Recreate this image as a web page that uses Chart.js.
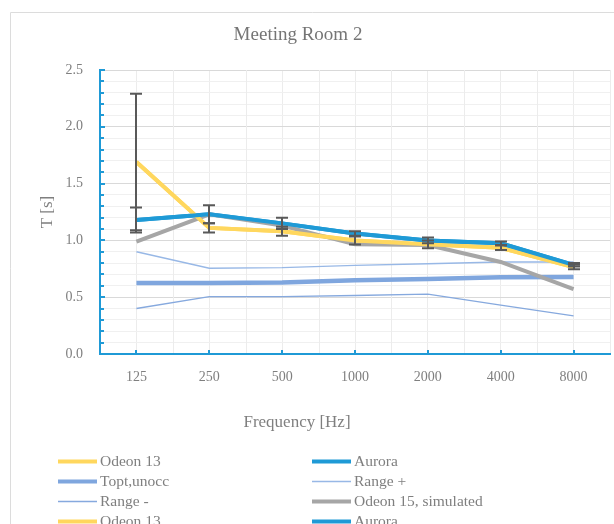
<!DOCTYPE html>
<html>
<head>
<meta charset="utf-8">
<script src="https://cdn.jsdelivr.net/npm/chart.js@4.4.1/dist/chart.umd.min.js"></script>
<style>
  html,body{margin:0;padding:0;background:#fff;}
  canvas{display:block;}
</style>
</head>
<body>
<canvas id="rtChart" width="614" height="524"></canvas>
<script>
// ------------------------------------------------------------
//  Meeting Room 2 - reverberation time per octave band
// ------------------------------------------------------------
const freqs=['125','250','500','1000','2000','4000','8000'];
const odeon13=[1.69,1.11,1.08,1.00,0.965,0.935,0.765];
const aurora=[1.18,1.23,1.15,1.06,1.00,0.975,0.785];
const toptUnocc=[0.625,0.625,0.63,0.65,0.66,0.675,0.678];
const rangePlus=[0.90,0.755,0.76,0.78,0.795,0.81,0.81];
const rangeMinus=[0.40,0.505,0.505,0.515,0.527,0.43,0.336];
const odeon15=[0.99,1.23,1.13,0.965,0.96,0.81,0.57];
const odeon13Err=[0.60,0.04,0.04,0.035,0.035,0.02,0.02];
const auroraErr=[0.11,0.08,0.05,0.02,0.025,0.015,0.015];
const yMajor=[0,0.5,1,1.5,2,2.5];
const yMinorStep=0.1;
const chartTitle='Meeting Room 2';
const xTitle='Frequency [Hz]';

const FONT='"Liberation Serif", "DejaVu Serif", serif';
const TXT='#7f7f7f';
const AXIS='#1f9ad6';
const ERRC='#595959';

function line(label,data,color,width,extra){
  return Object.assign({label,data,borderColor:color,backgroundColor:color,borderWidth:width,
    pointRadius:0,pointHoverRadius:0,tension:0,fill:false},extra||{});
}
// later series are painted on top, like the spreadsheet did
const sets=[
  line('Odeon 13',odeon13,'#ffd75e',4),
  line('Aurora',aurora,AXIS,4),
  line('Topt,unocc',toptUnocc,'#7fa6de',4.5),
  line('Range +',rangePlus,'#98b8e6',1.4),
  line('Range -',rangeMinus,'#86a9de',1.4),
  line('Odeon 15, simulated',odeon15,'#a6a6a6',4),
  line('Odeon 13',odeon13,'#ffd75e',4,{errorBars:odeon13Err}),
  line('Aurora',aurora,AXIS,4,{errorBars:auroraErr}),
];
sets.forEach((d,i)=>d.order=-i);

const isMajor=v=>Math.abs(v*2-Math.round(v*2))<1e-6;

// outer frame + the two titles (they sit left of the plot centre in the original)
const frame={id:'frame',beforeDraw(c){
  const x=c.ctx;x.save();x.strokeStyle='#dcdcdc';x.lineWidth=1;
  x.beginPath();x.moveTo(10.5,c.height+5);x.lineTo(10.5,12.5);x.lineTo(c.width+5,12.5);x.stroke();
  x.textAlign='center';x.textBaseline='middle';
  x.fillStyle='#757575';x.font='19px '+FONT;x.fillText(chartTitle,298,35);
  x.fillStyle=TXT;x.font='17px '+FONT;x.fillText(xTitle,297,423);
  x.restore();
}};

// second set of vertical grid lines (between bands) + inside tick marks
const extraGrid={id:'extraGrid',beforeDatasetsDraw(c){
  const x=c.ctx,xs=c.scales.x,a=c.chartArea;
  const step=xs.getPixelForValue(1)-xs.getPixelForValue(0);
  x.save();x.strokeStyle='#ececec';x.lineWidth=1;
  for(let i=1;i<=freqs.length;i++){
    const px=Math.round(xs.getPixelForValue(i)-step/2)+0.5;
    x.beginPath();x.moveTo(px,a.top);x.lineTo(px,a.bottom-1);x.stroke();
  }
  x.restore();
},afterDraw(c){
  const x=c.ctx,xs=c.scales.x,ys=c.scales.y,a=c.chartArea;
  x.save();x.strokeStyle=AXIS;x.lineWidth=2;
  ys.ticks.forEach(t=>{
    if(t.value===0) return;
    const py=Math.round(ys.getPixelForValue(t.value));
    x.beginPath();x.moveTo(a.left,py);x.lineTo(a.left+(isMajor(t.value)?5:4),py);x.stroke();
  });
  freqs.forEach((f,i)=>{
    const px=Math.round(xs.getPixelForValue(i));
    x.beginPath();x.moveTo(px,a.bottom);x.lineTo(px,a.bottom-4);x.stroke();
  });
  x.restore();
}};

const errorBars={id:'errorBars',afterDatasetsDraw(c){
  const x=c.ctx,ys=c.scales.y;
  x.save();x.strokeStyle=ERRC;x.lineWidth=2;
  c.data.datasets.forEach((d,di)=>{
    if(!d.errorBars) return;
    const meta=c.getDatasetMeta(di);
    meta.data.forEach((pt,i)=>{
      const e=d.errorBars[i],v=d.data[i];
      const hi=ys.getPixelForValue(v+e),lo=ys.getPixelForValue(v-e),px=Math.round(pt.x);
      x.beginPath();
      x.moveTo(px,hi);x.lineTo(px,lo);
      x.moveTo(px-6,hi);x.lineTo(px+6,hi);
      x.moveTo(px-6,lo);x.lineTo(px+6,lo);
      x.stroke();
    });
  });
  x.restore();
}};

// two-column legend under the axis title (cut by the picture edge)
const colLegend={id:'colLegend',afterDraw(c){
  const x=c.ctx,cols=[58,312],len=39,top=460.5,rowH=20.2;
  x.save();x.font='15.5px '+FONT;x.fillStyle=TXT;x.textBaseline='middle';x.textAlign='left';
  c.data.datasets.forEach((d,i)=>{
    const lx=cols[i%2],ly=Math.round(top+Math.floor(i/2)*rowH);
    x.strokeStyle=d.borderColor;x.lineWidth=Math.min(d.borderWidth,4);
    x.beginPath();x.moveTo(lx,ly+0.5);x.lineTo(lx+len,ly+0.5);x.stroke();
    x.fillText(d.label,lx+len+3,ly+1);
  });
  x.restore();
}};

new Chart(document.getElementById('rtChart'),{
  type:'line',
  data:{labels:freqs,datasets:sets},
  plugins:[frame,extraGrid,errorBars,colLegend],
  options:{
    responsive:false,animation:false,
    layout:{padding:{left:0,right:4,top:70,bottom:79}},
    plugins:{legend:{display:false},tooltip:{enabled:false},title:{display:false}},
    scales:{
      x:{
        offset:true,
        afterFit:s=>{s.height=91;},
        grid:{color:'#ececec',drawTicks:false,offset:false},
        border:{color:AXIS,width:2},
        ticks:{color:TXT,padding:15,font:{family:FONT,size:14},maxRotation:0},
        title:{display:false},
      },
      y:{
        min:0,max:2.5,
        afterFit:s=>{s.width=100;},
        afterBuildTicks:s=>{
          const t=[];for(let v=0;v<=2.5+1e-9;v+=yMinorStep) t.push({value:Math.round(v*10)/10});
          s.ticks=t;
        },
        grid:{drawTicks:false,color:ctx=>isMajor(ctx.tick.value)?'#d9d9d9':'#f0f0f0'},
        border:{color:AXIS,width:2},
        ticks:{autoSkip:false,color:TXT,padding:17,font:{family:FONT,size:14},
          callback:v=>yMajor.some(m=>Math.abs(m-v)<1e-6)?v.toFixed(1):''},
        title:{display:true,text:'T [s]',color:TXT,font:{family:FONT,size:17},padding:{top:37,bottom:0}},
      }
    }
  }
});
</script>
</body>
</html>
